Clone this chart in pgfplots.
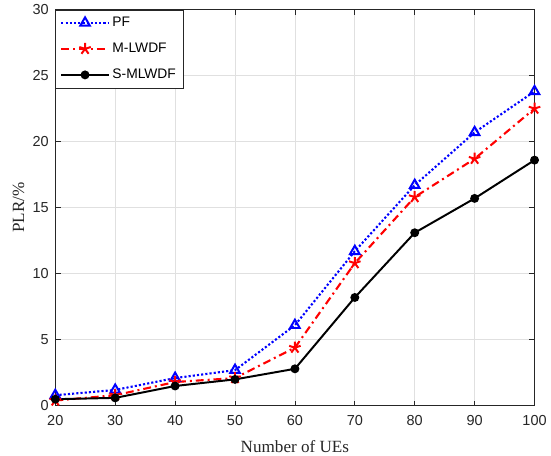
\documentclass[border=0pt]{standalone}
\usepackage{pgfplots}
\pgfplotsset{compat=1.18}
\usepackage{fontspec}
\setmainfont{Liberation Serif}
\setsansfont{Liberation Sans}
\definecolor{axgray}{HTML}{262626}
\begin{document}
\begin{tikzpicture}
\begin{axis}[
    name=main,
    scale only axis,
    width=364pt, height=301pt,
    xmin=20, xmax=100, ymin=0, ymax=30,
    xtick={20,30,...,100}, ytick={0,5,...,30},
    tick align=inside,
    major tick length=4pt,
    grid=major,
    grid style={black!12, line width=0.6pt},
    axis line style={line width=0.8pt, axgray},
    tick style={axgray, line width=0.6pt},
    ticklabel style={font=\sffamily\fontsize{11}{13}\selectfont, text=axgray},
    xticklabel style={yshift=-4pt},
    yticklabel style={xshift=-1.5pt},
    /pgf/number format/assume math mode=true,
    xlabel={Number of UEs}, ylabel={PLR/\%},
    label style={font=\rmfamily\fontsize{13}{15}\selectfont, text=axgray},
    xlabel style={at={(axis description cs:0.5,0)}, anchor=north, yshift=-23.5pt, inner sep=2.5pt},
    ylabel style={at={(axis description cs:0,0.5)}, anchor=south, yshift=20pt},
    legend cell align=left,
    legend style={font=\sffamily\fontsize{10.5}{12}\selectfont, draw=axgray, line width=0.6pt,
        at={(0,1)}, anchor=north west, row sep=7pt, inner sep=3.5pt, text=black},
    legend image code/.code={
        \draw[mark repeat=2,mark phase=2] plot coordinates {(0pt,0pt) (18pt,0pt) (36pt,0pt)};
    },
]
\addplot[blue, dash pattern=on 1.6pt off 1.6pt, line width=1.6pt, mark=triangle, mark size=4.2pt,
    mark options={solid, line width=1.5pt}]
coordinates {(20,0.8) (30,1.2) (40,2.1) (50,2.7) (60,6.1) (70,11.7) (80,16.7) (90,20.7) (100,23.8)};
\addlegendentry{PF}
\addplot[red, dash pattern=on 6pt off 3pt on 1.5pt off 3pt, line width=1.6pt, mark=star, mark size=4.6pt,
    mark options={solid, line width=1.5pt}]
coordinates {(20,0.4) (30,0.8) (40,1.8) (50,2.1) (60,4.4) (70,10.8) (80,15.8) (90,18.7) (100,22.5)};
\addlegendentry{M-LWDF}
\addplot[black, solid, line width=1.5pt, mark=*, mark size=2.6pt]
coordinates {(20,0.5) (30,0.6) (40,1.5) (50,2.0) (60,2.8) (70,8.2) (80,13.1) (90,15.7) (100,18.6)};
\addlegendentry{S-MLWDF}
\end{axis}
\path ([xshift=-42pt]main.south west) -- ([xshift=-42pt]main.north west);
\end{tikzpicture}
\end{document}
